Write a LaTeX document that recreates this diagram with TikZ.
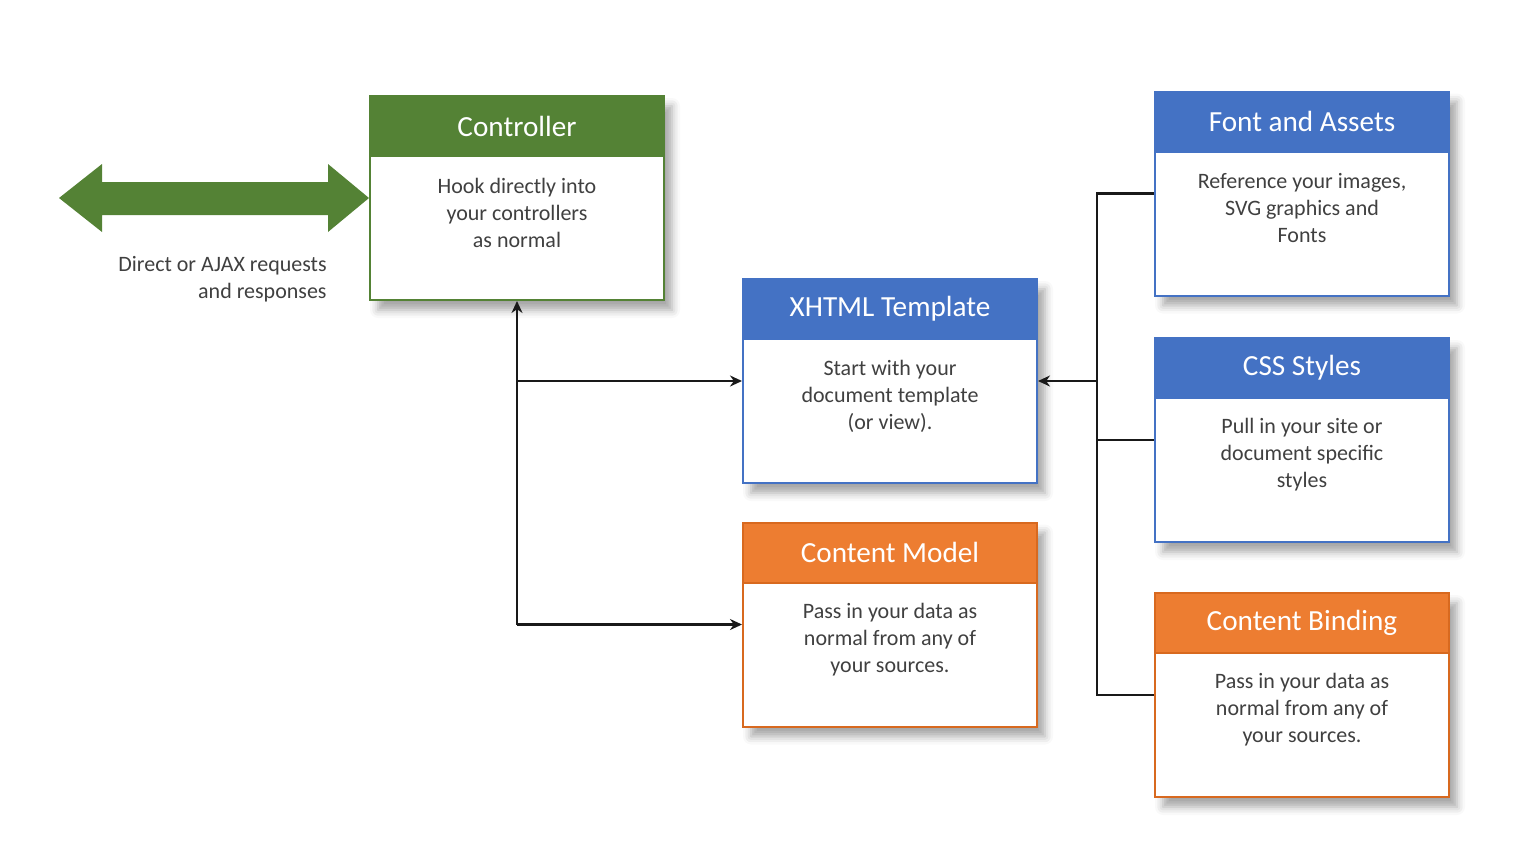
\documentclass[tikz,border=0pt]{standalone}
\usepackage{fontspec}
\setmainfont{Carlito}
\usetikzlibrary{arrows.meta,shadows.blur,calc}
\definecolor{grn}{HTML}{548235}
\definecolor{blu}{HTML}{4472C4}
\definecolor{org}{HTML}{ED7D31}
\definecolor{orgd}{HTML}{D8691F}
\definecolor{txt}{HTML}{404040}
\tikzset{
  card/.style={draw=#1, line width=1pt, fill=white, minimum width=147pt, minimum height=102pt,
    inner sep=0pt, blur shadow={shadow xshift=4pt, shadow yshift=-5pt, shadow blur radius=4pt, shadow opacity=35}},
  hdr/.style={draw=#1, fill=#1, line width=1pt, minimum width=147pt, minimum height=30pt, inner sep=0pt,
    anchor=north, text=white, font=\fontsize{14.6}{17}\selectfont},
  body/.style={align=center, text=txt, font=\fontsize{11}{13.5}\selectfont, inner sep=0pt},
  conn/.style={line width=1.1pt, black!90},
  tip/.style={-{Stealth[length=6pt,width=5.5pt]}}
}
\begin{document}
\begin{tikzpicture}[x={(0.5pt,0)}, y={(0,-0.5pt)}]
\useasboundingbox (0,0) rectangle (1536,864);
% Controller
\node[card=grn] (ctrl) at (517,198) {};
\node[hdr=grn] (ctrlh) at (ctrl.north) {Controller};
\node[body] (ctrlb) at ($(ctrlh.south)+(0,56)$) {Hook directly into\\your controllers\\as normal};
% XHTML
\node[card=blu] (xhtml) at (890,381) {};
\node[hdr=blu] (xhtmlh) at (xhtml.north) {XHTML Template};
\node[body] (xhtmlb) at ($(xhtmlh.south)+(0,56)$) {Start with your\\document template\\(or view).};
% Content Model
\node[card=orgd] (model) at (890,624.5) {};
\node[hdr=org, draw=orgd] (modelh) at (model.north) {Content Model};
\node[body] (modelb) at ($(modelh.south)+(0,56)$) {Pass in your data as\\normal from any of\\your sources.};
% Font and Assets
\node[card=blu] (font) at (1302,193.5) {};
\node[hdr=blu] (fonth) at (font.north) {Font and Assets};
\node[body] (fontb) at ($(fonth.south)+(0,56)$) {Reference your images,\\SVG graphics and\\Fonts};
% CSS Styles
\node[card=blu] (css) at (1302,440) {};
\node[hdr=blu] (cssh) at (css.north) {CSS Styles};
\node[body] (cssb) at ($(cssh.south)+(0,56)$) {Pull in your site or\\document specific\\styles};
% Content Binding
\node[card=orgd] (bind) at (1302,695) {};
\node[hdr=org, draw=orgd] (bindh) at (bind.north) {Content Binding};
\node[body] (bindb) at ($(bindh.south)+(0,56)$) {Pass in your data as\\normal from any of\\your sources.};
% double arrow
\fill[grn] (59,198) -- (102,164) -- (102,182) -- (328,182) -- (328,164) -- (ctrl.west) -- (328,232) -- (328,215) -- (102,215) -- (102,232) -- cycle;
\node[body, anchor=east, align=right] (req) at (327,279) {Direct or AJAX requests\\and responses};
% left connectors
\coordinate (lbus) at (ctrl.south |- model.west);
\coordinate (lmid) at (ctrl.south |- xhtml.west);
\draw[conn, tip] (lbus) -- (ctrl.south);
\draw[conn, tip] (lmid) -- (xhtml.west);
\draw[conn, tip] (lbus) -- (model.west);
% right connectors
\coordinate (rtop) at (1097,193.5);
\coordinate (rbot) at (1097,695);
\coordinate (rmid) at (1097,381);
\draw[conn] (font.west) -- (rtop) -- (rbot) -- (bind.west);
\draw[conn] (rtop |- css.west) -- (css.west);
\draw[conn, tip] (rmid) -- (xhtml.east);
\end{tikzpicture}
\end{document}
